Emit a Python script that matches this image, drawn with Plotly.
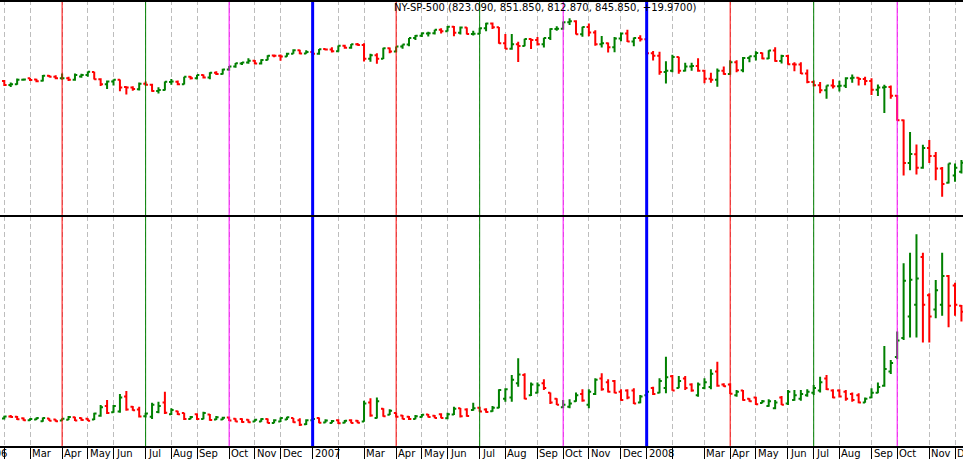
import pandas as pd
import plotly.graph_objects as go
from plotly.subplots import make_subplots

# weekly bars, first bar is Fri 2006-02-03
FIRST_BAR = "2006-02-03"
N_BARS = 150

sp_open = [1283, 1264, 1267, 1289, 1295, 1290, 1284, 1307, 1303, 1295,
           1295, 1289, 1304, 1311, 1325, 1291, 1267, 1280, 1288, 1255,
           1252, 1244, 1270, 1265, 1236, 1240, 1278, 1279, 1267, 1302,
           1295, 1311, 1299, 1321, 1315, 1336, 1350, 1365, 1369, 1377,
           1364, 1381, 1402, 1401, 1397, 1410, 1427, 1411, 1418, 1410,
           1432, 1430, 1422, 1448, 1438, 1455, 1451, 1387, 1403, 1387,
           1436, 1421, 1444, 1453, 1484, 1494, 1505, 1506, 1522, 1516,
           1536, 1508, 1533, 1503, 1504, 1530, 1552, 1534, 1459, 1433,
           1454, 1446, 1479, 1474, 1454, 1484, 1526, 1527, 1558, 1562,
           1501, 1535, 1510, 1454, 1459, 1441, 1481, 1505, 1468, 1484,
           1478, 1412, 1401, 1325, 1331, 1395, 1331, 1350, 1353, 1331,
           1293, 1288, 1330, 1315, 1370, 1333, 1390, 1398, 1414, 1388,
           1425, 1376, 1400, 1361, 1360, 1318, 1278, 1263, 1239, 1261,
           1258, 1260, 1296, 1298, 1292, 1283, 1242, 1252, 1255, 1213,
           1099, 899, 940, 877, 969, 931, 873, 806, 840, 858]
sp_high = [1287, 1275, 1294, 1294, 1298, 1293, 1311, 1311, 1310, 1318,
           1302, 1318, 1316, 1327, 1326, 1295, 1285, 1290, 1290, 1258,
           1258, 1276, 1280, 1270, 1253, 1280, 1292, 1285, 1303, 1306,
           1312, 1313, 1324, 1328, 1340, 1353, 1367, 1372, 1389, 1381,
           1384, 1403, 1407, 1407, 1415, 1431, 1429, 1427, 1429, 1432,
           1435, 1441, 1449, 1452, 1456, 1461, 1459, 1410, 1412, 1438,
           1439, 1444, 1453, 1484, 1498, 1510, 1513, 1523, 1529, 1540,
           1540, 1538, 1534, 1518, 1532, 1555, 1556, 1535, 1503, 1503,
           1466, 1480, 1481, 1488, 1485, 1530, 1539, 1561, 1576, 1567,
           1536, 1552, 1520, 1493, 1463, 1488, 1510, 1523, 1486, 1497,
           1480, 1423, 1420, 1375, 1405, 1396, 1368, 1368, 1389, 1335,
           1321, 1341, 1350, 1380, 1380, 1395, 1399, 1422, 1416, 1426,
           1440, 1406, 1405, 1370, 1370, 1336, 1285, 1278, 1262, 1291,
           1284, 1300, 1313, 1300, 1303, 1295, 1266, 1265, 1262, 1217,
           1102, 1044, 985, 984, 1007, 950, 880, 897, 897, 913]
sp_low = [1259, 1254, 1265, 1284, 1283, 1277, 1280, 1300, 1291, 1289,
          1283, 1284, 1298, 1303, 1290, 1259, 1245, 1262, 1235, 1219,
          1237, 1238, 1260, 1232, 1224, 1238, 1265, 1263, 1266, 1290,
          1290, 1294, 1291, 1311, 1313, 1331, 1345, 1357, 1363, 1361,
          1360, 1380, 1394, 1377, 1396, 1410, 1408, 1410, 1403, 1405,
          1425, 1416, 1420, 1433, 1433, 1448, 1374, 1373, 1363, 1385,
          1412, 1417, 1433, 1445, 1474, 1488, 1491, 1500, 1505, 1514,
          1492, 1500, 1500, 1496, 1503, 1515, 1526, 1457, 1432, 1429,
          1371, 1445, 1432, 1449, 1439, 1475, 1518, 1523, 1545, 1500,
          1490, 1492, 1448, 1439, 1416, 1417, 1469, 1465, 1445, 1468,
          1406, 1378, 1312, 1271, 1323, 1317, 1327, 1330, 1326, 1272,
          1274, 1256, 1312, 1312, 1324, 1324, 1370, 1379, 1384, 1386,
          1373, 1364, 1359, 1328, 1315, 1272, 1257, 1225, 1200, 1248,
          1234, 1250, 1274, 1261, 1263, 1217, 1212, 1133, 1200, 1097,
          840, 865, 845, 872, 899, 818, 741, 803, 811, 850]
sp_close = [1264, 1267, 1289, 1290, 1287, 1281, 1307, 1303, 1295, 1296,
            1289, 1311, 1311, 1326, 1291, 1267, 1280, 1288, 1252, 1252,
            1245, 1270, 1265, 1236, 1240, 1279, 1280, 1267, 1302, 1295,
            1311, 1299, 1321, 1315, 1336, 1350, 1366, 1369, 1377, 1364,
            1381, 1401, 1401, 1397, 1410, 1427, 1411, 1418, 1410, 1431,
            1430, 1422, 1448, 1438, 1455, 1451, 1387, 1403, 1387, 1436,
            1421, 1444, 1453, 1484, 1494, 1506, 1506, 1523, 1516, 1536,
            1508, 1533, 1503, 1504, 1530, 1552, 1534, 1459, 1433, 1454,
            1446, 1479, 1474, 1454, 1484, 1526, 1527, 1558, 1562, 1501,
            1535, 1510, 1454, 1459, 1441, 1481, 1505, 1468, 1484, 1478,
            1412, 1401, 1325, 1331, 1395, 1331, 1350, 1353, 1331, 1293,
            1288, 1330, 1315, 1370, 1333, 1390, 1398, 1414, 1388, 1425,
            1376, 1400, 1361, 1360, 1318, 1278, 1263, 1239, 1261, 1258,
            1260, 1296, 1298, 1292, 1283, 1242, 1252, 1255, 1213, 1099,
            899, 941, 877, 969, 931, 873, 800, 896, 876, 900]

vx_open = [12.2, 13.1, 13.0, 12.3, 11.5, 11.8, 11.1, 12.2, 11.8, 11.4,
           11.7, 12.8, 12.5, 12.1, 11.8, 13.4, 17.5, 14.9, 15.2, 21.5,
           17.2, 16.0, 13.2, 13.0, 15.0, 19.0, 14.0, 15.3, 14.5, 12.0,
           14.0, 12.0, 13.9, 11.8, 11.8, 12.7, 12.1, 12.0, 11.7, 11.0,
           11.0, 12.0, 10.4, 11.0, 11.8, 12.4, 11.5, 9.8, 11.5, 12.5,
           10.6, 10.4, 11.5, 10.5, 11.5, 11.3, 11.0, 19.0, 12.5, 16.3,
           13.8, 14.5, 13.5, 13.0, 12.0, 12.9, 13.9, 13.4, 14.0, 12.3,
           13.9, 16.5, 16.0, 15.8, 16.8, 16.0, 15.3, 16.8, 20.5, 21.0,
           27.0, 30.5, 22.0, 23.0, 27.0, 23.0, 20.5, 17.0, 17.2, 19.5,
           22.5, 18.0, 22.5, 29.0, 27.5, 28.0, 23.5, 24.0, 24.0, 19.0,
           22.0, 25.0, 23.0, 25.0, 30.0, 25.0, 29.0, 26.5, 22.0, 25.0,
           25.5, 32.0, 26.5, 26.5, 22.0, 24.0, 20.5, 21.0, 18.7, 17.5,
           16.5, 21.0, 18.5, 20.0, 20.5, 22.0, 23.0, 24.0, 29.0, 24.0,
           24.0, 23.5, 22.5, 22.0, 19.0, 21.0, 23.0, 26.0, 32.0, 38.0,
           46.0, 55.0, 60.0, 80.0, 64.0, 58.0, 60.0, 72.0, 68.0, 59.5]
vx_high = [13.4, 13.7, 13.3, 12.7, 12.3, 12.7, 12.7, 12.3, 11.9, 12.3,
           13.3, 13.0, 12.7, 12.3, 14.7, 17.9, 20.0, 17.9, 22.5, 23.8,
           17.5, 17.2, 14.7, 18.9, 19.3, 23.5, 16.5, 15.5, 14.7, 13.3,
           14.4, 15.1, 14.1, 13.3, 13.0, 13.0, 12.3, 12.3, 11.9, 11.9,
           12.3, 12.2, 11.9, 12.7, 13.0, 12.5, 12.3, 11.9, 12.5, 12.7,
           11.9, 11.6, 11.9, 11.6, 11.9, 11.6, 19.7, 20.7, 21.1, 16.5,
           16.1, 14.7, 13.7, 13.3, 13.7, 14.1, 14.1, 13.7, 14.4, 14.7,
           17.2, 16.6, 16.5, 18.9, 17.2, 16.5, 17.5, 24.5, 24.9, 30.5,
           37.5, 31.2, 27.3, 27.3, 28.7, 23.1, 20.7, 20.0, 20.3, 23.1,
           24.5, 24.5, 29.1, 31.2, 28.7, 28.4, 24.5, 24.5, 24.9, 22.1,
           24.2, 25.6, 29.1, 38.2, 30.5, 30.1, 30.1, 27.0, 27.3, 29.1,
           32.9, 36.1, 27.0, 27.0, 24.2, 24.2, 20.7, 21.4, 20.0, 20.3,
           20.0, 21.7, 24.2, 24.2, 24.2, 24.5, 26.3, 29.8, 30.5, 24.5,
           24.5, 24.2, 23.1, 22.8, 21.1, 24.9, 27.3, 42.7, 36.8, 48.7,
           77.4, 81.8, 89.5, 81.8, 64.8, 70.4, 81.8, 72.5, 69.2, 59.9]
vx_low = [11.8, 12.6, 11.6, 11.3, 11.3, 11.6, 10.9, 11.2, 10.9, 11.3,
          11.6, 11.2, 11.3, 11.2, 11.6, 13.0, 14.1, 14.7, 14.7, 15.5,
          15.5, 12.7, 12.7, 12.0, 14.4, 14.1, 13.7, 13.7, 11.6, 11.9,
          11.6, 11.9, 11.3, 11.6, 11.6, 11.2, 10.9, 10.5, 10.5, 10.9,
          10.9, 10.2, 10.2, 10.8, 11.6, 10.5, 9.1, 9.5, 11.2, 10.2,
          10.5, 10.2, 9.9, 10.2, 10.2, 10.2, 10.9, 13.0, 12.2, 13.0,
          13.7, 12.7, 11.9, 11.6, 11.9, 12.7, 12.7, 12.3, 12.3, 11.9,
          13.7, 12.7, 13.0, 15.5, 15.1, 14.7, 15.1, 16.5, 19.3, 19.3,
          25.6, 20.3, 21.7, 22.8, 24.2, 18.3, 17.9, 16.5, 16.5, 19.3,
          19.3, 16.5, 22.1, 23.9, 23.1, 22.8, 19.7, 20.3, 18.3, 18.6,
          21.5, 22.1, 22.8, 22.8, 23.9, 24.9, 24.2, 23.5, 21.4, 24.5,
          24.5, 25.6, 25.6, 22.5, 21.4, 19.7, 19.3, 17.9, 18.6, 17.2,
          16.1, 17.9, 17.9, 19.7, 19.7, 21.4, 22.1, 23.1, 24.2, 20.7,
          21.1, 19.7, 19.3, 18.6, 18.9, 20.7, 22.8, 25.6, 30.9, 37.1,
          45.2, 46.2, 46.2, 44.1, 44.1, 54.3, 55.3, 50.5, 55.3, 52.9]
vx_close = [13.1, 12.9, 11.9, 11.5, 12.0, 12.5, 12.4, 11.3, 11.1, 12.1,
            12.9, 11.4, 11.6, 11.3, 14.3, 17.0, 14.5, 17.5, 21.0, 16.0,
            15.7, 13.1, 14.3, 18.0, 17.5, 14.6, 15.8, 14.0, 12.0, 12.9,
            12.0, 14.5, 11.6, 12.8, 12.6, 11.4, 11.0, 10.8, 10.7, 11.7,
            12.0, 10.4, 11.5, 12.5, 12.8, 10.7, 9.6, 11.5, 12.0, 10.5,
            11.4, 11.2, 10.2, 11.3, 10.4, 10.5, 18.5, 13.5, 19.5, 13.2,
            15.5, 13.0, 12.0, 12.0, 13.2, 13.8, 12.9, 12.5, 12.5, 14.0,
            16.3, 13.2, 13.3, 16.5, 15.2, 15.0, 16.8, 24.2, 24.5, 28.5,
            30.7, 20.5, 26.5, 26.2, 25.0, 19.0, 18.0, 18.0, 18.5, 22.0,
            19.8, 23.5, 28.5, 24.5, 23.5, 23.0, 20.0, 21.0, 18.5, 21.5,
            23.5, 22.5, 28.0, 29.5, 24.0, 28.0, 25.0, 24.0, 26.5, 27.5,
            31.0, 26.0, 25.8, 22.6, 23.5, 20.0, 19.5, 18.2, 19.5, 19.5,
            19.0, 18.0, 23.5, 22.0, 22.5, 23.5, 25.0, 27.5, 24.5, 21.0,
            21.5, 20.5, 20.0, 19.0, 20.5, 23.0, 25.5, 33.0, 35.5, 45.0,
            70.0, 70.5, 71.0, 60.0, 55.0, 66.0, 72.0, 59.5, 60.0, 57.0]

month_abbr = ["", "", "Mar", "Apr", "May", "Jun", "Jul", "Aug", "Sep",
              "Oct", "Nov", "Dec"]
quarter_colors = {1: "#0000FF", 4: "#FF0000", 7: "#008000", 10: "#FF00FF"}
title_text = "NY-SP-500 (823.090, 851.850, 812.870, 845.850, +19.9700)"

UP = "#008000"
DOWN = "#FF0000"
FONT = "DejaVu Sans"

dates = pd.date_range(FIRST_BAR, periods=N_BARS, freq="7D")

# first bar of every month gets a tick / grid line
month_starts = []
for i, d in enumerate(dates):
    if i == 0 or d.month != dates[i - 1].month:
        month_starts.append(d)

fig = make_subplots(rows=2, cols=1, shared_xaxes=True, vertical_spacing=0.003)

for row, (o, h, l, c) in enumerate([(sp_open, sp_high, sp_low, sp_close),
                                    (vx_open, vx_high, vx_low, vx_close)], 1):
    fig.add_trace(go.Ohlc(x=dates, open=o, high=h, low=l, close=c,
                          increasing=dict(line=dict(color=UP, width=2)),
                          decreasing=dict(line=dict(color=DOWN, width=2)),
                          tickwidth=0.36, showlegend=False, hoverinfo="skip"),
                  row=row, col=1)

xrange = ["2006-01-29 07:30", "2008-12-13 17:00"]
fig.update_xaxes(range=xrange, rangeslider_visible=False,
                 tickvals=month_starts, showticklabels=False,
                 showgrid=True, gridcolor="#BDBDBD", gridwidth=1,
                 griddash="5px,3px", zeroline=False)
fig.update_xaxes(ticks="", row=1, col=1)
fig.update_xaxes(ticks="outside", ticklen=13, tickcolor="black", tickwidth=1,
                 showline=True, linecolor="black", linewidth=2, row=2, col=1)
fig.update_yaxes(showticklabels=False, showgrid=False, zeroline=False,
                 ticks="")
fig.update_layout(yaxis=dict(domain=[0.5179, 1.0], range=[655.3, 1661.7]),
                  yaxis2=dict(domain=[0.0, 0.5146], range=[0.7, 97.0]))

shapes = []
for d in month_starts:
    if d.month in quarter_colors:
        shapes.append(dict(type="line", xref="x2", yref="paper",
                           x0=d, x1=d, y0=0, y1=1, layer="above",
                           line=dict(color=quarter_colors[d.month],
                                     width=3 if d.month == 1 else 1)))
# frame: top edge and panel divider
shapes.append(dict(type="line", xref="paper", yref="paper", x0=0, x1=1,
                   y0=1, y1=1, line=dict(color="black", width=4)))
shapes.append(dict(type="line", xref="paper", yref="paper", x0=0, x1=1,
                   y0=0.5157, y1=0.5157, line=dict(color="black", width=2)))

annotations = [dict(text=title_text, xref="paper", yref="paper",
                    x=0.566, y=1, xanchor="center", yanchor="top",
                    showarrow=False, font=dict(family=FONT, size=10,
                                               color="black"))]
# the 2006 label belongs to a tick left of the visible range
annotations.append(dict(text="2006", xref="paper", yref="paper", x=0, y=0,
                        xanchor="left", yanchor="top", xshift=-20,
                        showarrow=False,
                        font=dict(family=FONT, size=10, color="black")))
for d in month_starts:
    label = str(d.year) if d.month == 1 else month_abbr[d.month - 1]
    if not label:
        continue
    annotations.append(dict(text=label, xref="x2", yref="paper", x=d, y=0,
                            xanchor="left", yanchor="top", xshift=0,
                            showarrow=False,
                            font=dict(family=FONT, size=10, color="black")))

fig.update_layout(width=963, height=459,
                  margin=dict(l=0, r=0, t=0, b=13),
                  paper_bgcolor="white", plot_bgcolor="white",
                  shapes=shapes, annotations=annotations)

# the page must not add its own margin around the 963x459 figure
fig.write_html("out.html", config={"displayModeBar": False},
               post_script="document.body.style.margin='0';"
                           "document.body.style.overflow='hidden';")
